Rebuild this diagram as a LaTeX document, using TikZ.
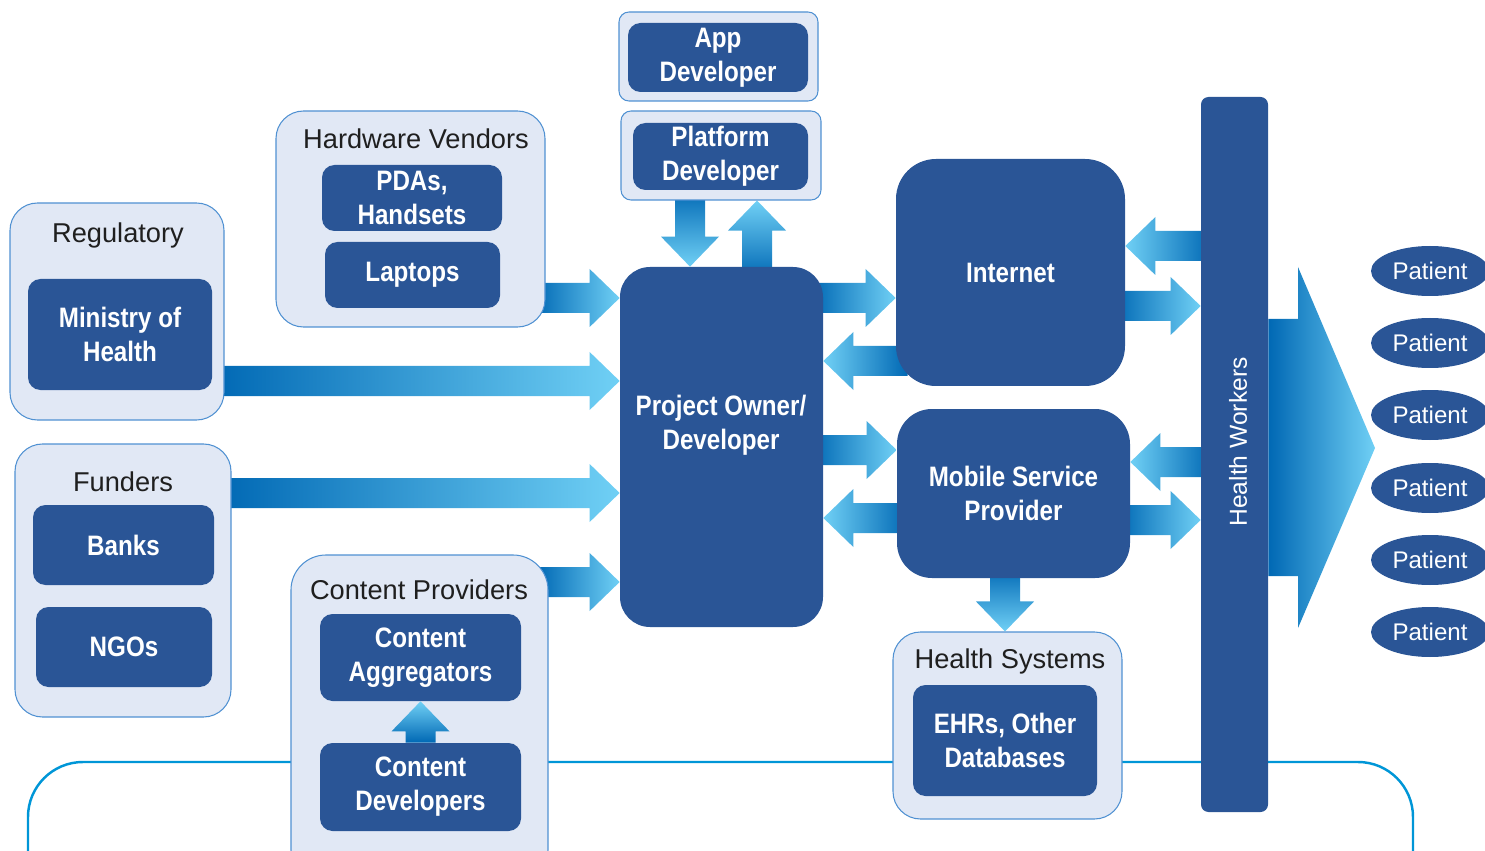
\documentclass[tikz,border=0pt]{standalone}
\usepackage{fontspec}
\setmainfont{Liberation Sans}
\newfontfamily\condfont[FakeStretch=0.86]{Liberation Sans}
\usetikzlibrary{calc,shapes.geometric}

\definecolor{boxblue}{RGB}{42,85,150}
\definecolor{panelfill}{RGB}{225,232,245}
\definecolor{panelline}{RGB}{80,145,210}
\definecolor{arrdark}{RGB}{0,104,180}
\definecolor{arrmid}{RGB}{0,146,210}
\definecolor{arrlight}{RGB}{112,208,245}
\definecolor{linkline}{RGB}{0,150,215}

\pgfdeclarelayer{bg}
\pgfsetlayers{bg,main}

\tikzset{
  wd/.style={minimum width=#1*0.02cm},
  ht/.style={minimum height=#1*0.02cm},
  panel/.style={draw=panelline, line width=0.6pt, fill=panelfill, rounded corners=0.55cm, inner sep=0pt},
  boxtext/.style={text=white, align=center, inner sep=0pt, font=\condfont\bfseries\fontsize{16}{19.3}\selectfont},
  darkbox/.style={boxtext, fill=boxblue, rounded corners=0.25cm},
  paneltitle/.style={text=black!88, font=\fontsize{15.5}{18}\selectfont},
  patient/.style={ellipse, fill=boxblue, text=white, wd=118, ht=50, inner sep=0pt, font=\fontsize{13.7}{16}\selectfont},
}

% fat shaded arrows: [tail extension]{tail}{tip}
\newcommand{\rarr}[3][12]{\shade[left color=arrdark, middle color=arrmid, right color=arrlight]
  ($(#2)+(-#1,-15)$) -- ($(#3)+(-30,-15)$) -- ($(#3)+(-30,-29)$) -- (#3)
  -- ($(#3)+(-30,29)$) -- ($(#3)+(-30,15)$) -- ($(#2)+(-#1,15)$) -- cycle;}
\newcommand{\larr}[3][12]{\shade[left color=arrlight, middle color=arrmid, right color=arrdark]
  ($(#2)+(#1,-15)$) -- ($(#3)+(30,-15)$) -- ($(#3)+(30,-29)$) -- (#3)
  -- ($(#3)+(30,29)$) -- ($(#3)+(30,15)$) -- ($(#2)+(#1,15)$) -- cycle;}
\newcommand{\darr}[3][12]{\shade[top color=arrdark, middle color=arrmid, bottom color=arrlight]
  ($(#2)+(-15,-#1)$) -- ($(#3)+(-15,-30)$) -- ($(#3)+(-29,-30)$) -- (#3)
  -- ($(#3)+(29,-30)$) -- ($(#3)+(15,-30)$) -- ($(#2)+(15,-#1)$) -- cycle;}
\newcommand{\uarr}[3][12]{\shade[top color=arrlight, middle color=arrmid, bottom color=arrdark]
  ($(#2)+(-15,#1)$) -- ($(#3)+(-15,30)$) -- ($(#3)+(-29,30)$) -- (#3)
  -- ($(#3)+(29,30)$) -- ($(#3)+(15,30)$) -- ($(#2)+(15,#1)$) -- cycle;}

\begin{document}
\begin{tikzpicture}[x=0.02cm, y=-0.02cm]
  \useasboundingbox (0,0) rectangle (1485,851);
  \clip (0,0) rectangle (1485,851);

  % left side
  \node[panel, wd=214, ht=217] (reg) at (117,311.5) {};
  \node[paneltitle] (regt) at (118,235) {Regulatory};
  \node[darkbox, wd=184, ht=111] (moh) at (120,334.5) {Ministry of\\Health};

  \node[panel, wd=216, ht=273] (fund) at (123,580.5) {};
  \node[paneltitle] (fundt) at (123,482) {Funders};
  \node[darkbox, wd=181, ht=80] (banks) at (123.5,545) {Banks};
  \node[darkbox, wd=176, ht=80] (ngos) at (124,647) {NGOs};

  \node[panel, wd=269, ht=216] (hwv) at (410.5,219) {};
  \node[paneltitle] (hwvt) at (416,139) {Hardware Vendors};
  \node[darkbox, wd=180, ht=66] (pdas) at (412,198) {PDAs,\\Handsets};
  \node[darkbox, wd=175, ht=66] (laptops) at (412.5,275) {Laptops};

  \node[panel, wd=257, ht=330, rounded corners=0.7cm] (cp) at (419.5,720) {};
  \node[paneltitle] (cpt) at (419,590) {Content Providers};
  \node[darkbox, wd=201, ht=87] (cagg) at (420.5,657.5) {Content\\Aggregators};
  \node[darkbox, wd=201, ht=88] (cdev) at (420.5,787) {Content\\Developers};

  % centre
  \node[panel, wd=199, ht=89, rounded corners=0.2cm] (appo) at (718.5,56.5) {};
  \node[darkbox, wd=180, ht=69] (app) at (718,57.5) {App\\Developer};
  \node[panel, wd=200, ht=89, rounded corners=0.2cm] (plato) at (721,155.5) {};
  \node[darkbox, wd=175, ht=67] (plat) at (720.5,156.5) {Platform\\Developer};

  \node[darkbox, wd=203, ht=360, rounded corners=0.6cm] (po) at (721.5,447) {};
  \node[boxtext] (pot) at (721,425) {Project Owner/\\Developer};

  \node[darkbox, wd=229, ht=227, rounded corners=0.8cm] (inet) at (1010.5,272.5) {Internet};
  \node[darkbox, wd=233, ht=169, rounded corners=0.7cm] (msp) at (1013.5,493.5) {Mobile Service\\Provider};

  \node[panel, wd=229, ht=187] (hs) at (1007.5,725.5) {};
  \node[paneltitle] (hst) at (1010,661) {Health Systems};
  \node[darkbox, wd=184, ht=111] (ehr) at (1005,740.5) {EHRs, Other\\Databases};

  % right side
  \node[darkbox, wd=67, ht=715, rounded corners=0.15cm] (hw) at (1234.5,454.5) {};
  \node[rotate=90, text=white, font=\fontsize{14}{16}\selectfont] (hwt) at (1238,442) {Health Workers};

  \foreach \y [count=\i] in {271,343,415,488,560,632}
    \node[patient] (pat\i) at (1430,\y) {Patient};

  \begin{pgfonlayer}{bg}
    \draw[linkline, line width=1.4pt, rounded corners=1.1cm] (28,880) |- (1413,762) -- (1413,880);
    \rarr{hwv.east |- 0,298}{po.west |- 0,298}
    \rarr{reg.east |- 0,381}{po.west |- 0,381}
    \rarr{fund.east |- 0,493}{po.west |- 0,493}
    \rarr{cp.east |- 0,582}{po.west |- 0,582}
    \darr{plato.south -| 690,0}{po.north -| 690,0}
    \uarr{po.north -| 757,0}{plato.south -| 757,0}
    \rarr{po.east |- 0,298}{inet.west |- 0,298}
    \larr{inet.west |- 0,361}{po.east |- 0,361}
    \rarr{po.east |- 0,450}{msp.west |- 0,450}
    \larr{msp.west |- 0,518}{po.east |- 0,518}
    \larr{hw.west |- 0,246}{inet.east |- 0,246}
    \rarr{inet.east |- 0,306}{hw.west |- 0,306}
    \larr{hw.west |- 0,462}{msp.east |- 0,462}
    \rarr{msp.east |- 0,520}{hw.west |- 0,520}
    \darr{msp.south -| 1005,0}{hs.north -| 1005,0}
    \shade[left color=arrdark, middle color=arrmid, right color=arrlight]
      (hw.east |- 0,319) -- (1298,319) -- (1298,267) -- (1375,448)
      -- (1298,628) -- (1298,576) -- (hw.east |- 0,576) -- cycle;
  \end{pgfonlayer}
  \uarr[0]{cdev.north}{cagg.south}
\end{tikzpicture}
\end{document}
